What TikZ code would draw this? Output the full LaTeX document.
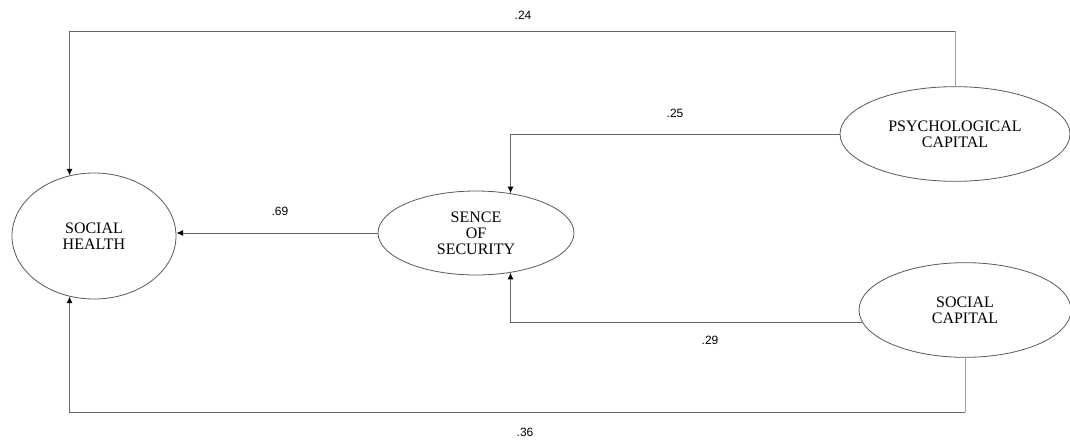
\documentclass[tikz,border=0pt]{standalone}
\usepackage{fontspec}
\setmainfont{Liberation Serif}
\newfontfamily\labelfont{Liberation Sans}
\usetikzlibrary{shapes.geometric,arrows.meta}
\definecolor{linienblau}{RGB}{135,160,220}
\tikzset{
    >={Latex[length=5pt,width=4.5pt,color=black]},
    konstrukt/.style={draw=black!65, ellipse, inner sep=0pt, align=center, line width=0.6pt, font=\fontsize{12}{12}\selectfont},
    pfad/.style={draw=black!60, line width=0.7pt},
    blaupfad/.style={draw=linienblau, line width=0.7pt},
    koeff/.style={font=\labelfont\fontsize{9}{9}\selectfont}
}
\begin{document}
\begin{tikzpicture}[x=0.75pt, y=-0.75pt]
            \useasboundingbox[fill=white] (0,0) rectangle (1070,439);

            % Konstrukte
            \node[konstrukt, minimum width=123pt, minimum height=94.5pt] (sh) at (94,236) {SOCIAL\\HEALTH};
            \node[konstrukt, minimum width=147pt, minimum height=63pt] (sec) at (476,233) {SENCE\\OF\\SECURITY};
            \node[konstrukt, minimum width=172.5pt, minimum height=71pt] (psy) at (955,134) {PSYCHOLOGICAL\\CAPITAL};
            \node[konstrukt, minimum width=159pt, minimum height=71pt] (soc) at (965,310) {SOCIAL\\CAPITAL};

            % Pfade
            \draw[blaupfad] (psy.north) -- (psy.north |- 0,31) coordinate (psyoben);
            \draw[pfad, ->] (psyoben) -- (sh.112 |- 0,31) -- (sh.112);
            \draw[pfad, ->] (psy.west) -| (sec.49);
            \draw[pfad, ->] (sec.west) -- (sec.west -| sh.east);
            \draw[pfad, ->] (soc.187) -| (sec.-49);
            \draw[blaupfad] (soc.south) -- (soc.south |- 0,412) coordinate (socunten);
            \draw[pfad, ->] (socunten) -- (sh.248 |- 0,412) -- (sh.248);

            % Koeffizienten
            \node[koeff] (k24) at (523,15) {.24};
            \node[koeff] (k25) at (675,113) {.25};
            \node[koeff] (k69) at (280,211) {.69};
            \node[koeff] (k29) at (710,340) {.29};
            \node[koeff] (k36) at (525,432) {.36};
\end{tikzpicture}
\end{document}
